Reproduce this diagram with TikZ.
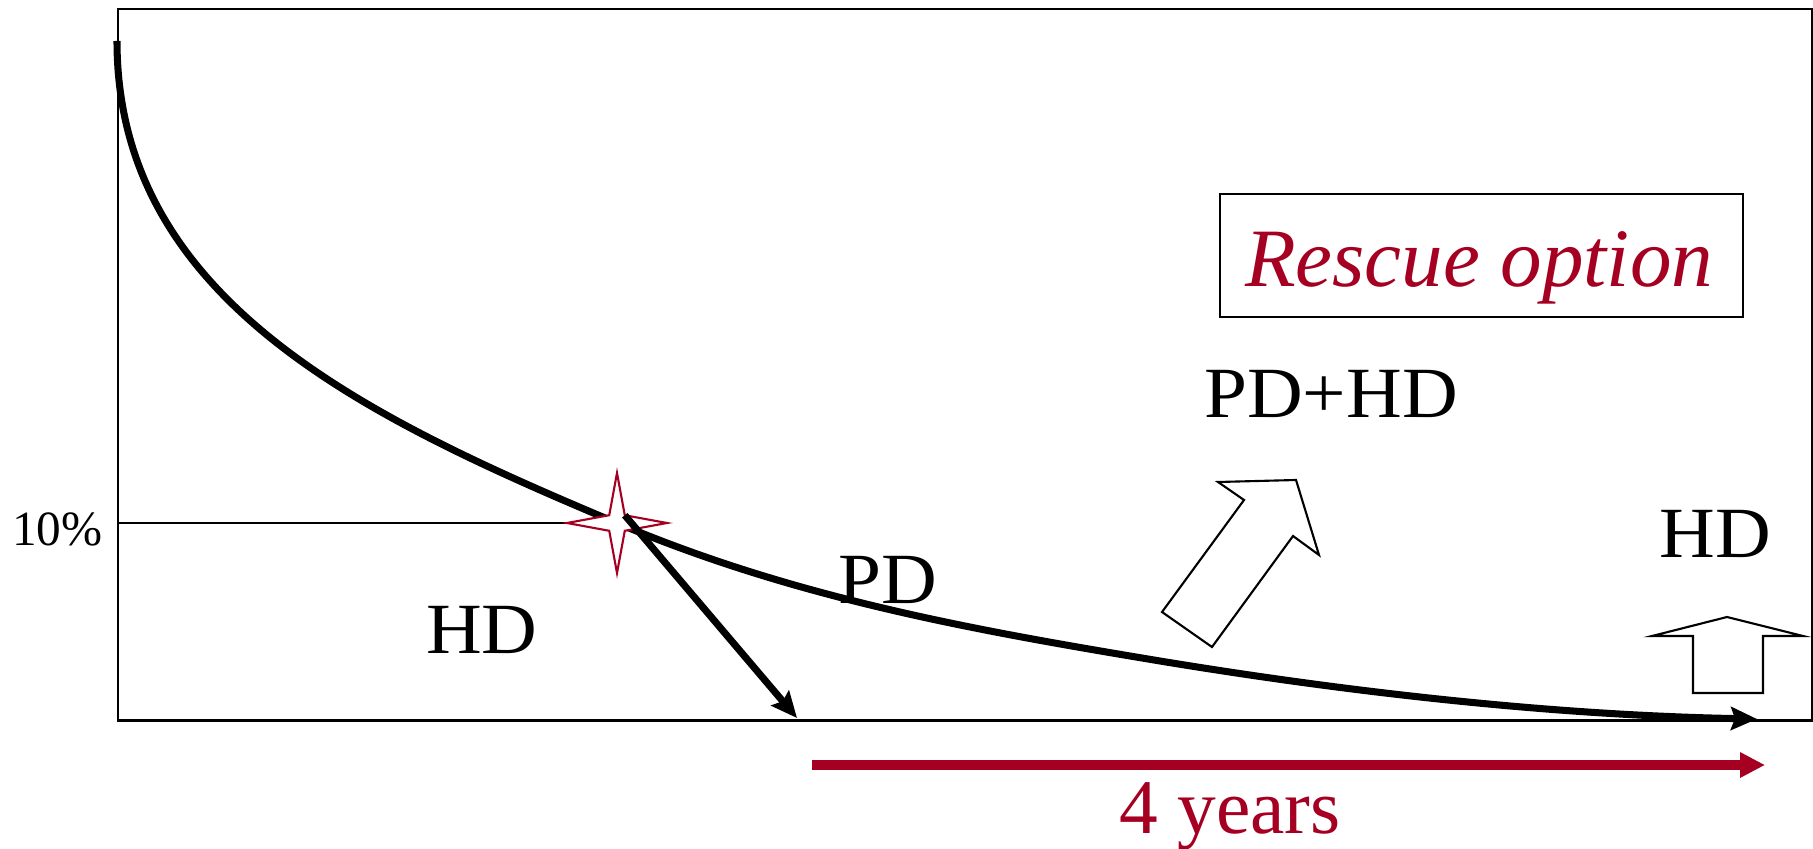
\documentclass[tikz,border=0pt]{standalone}
\usepackage{fontspec}
\setmainfont{Liberation Serif}
\newfontfamily\widefont[FakeStretch=1.07]{Liberation Serif}
\usetikzlibrary{arrows.meta}
\definecolor{darkred}{HTML}{A50021}
\begin{document}
\begin{tikzpicture}[x=0.01cm,y=-0.01cm,
  lbl/.style={anchor=base,inner sep=0pt,font=\widefont\fontsize{20.5}{24}\selectfont},
  blockarrow/.style={draw=black,fill=white,line width=0.6pt,line join=miter},
  mainline/.style={line width=2pt},
  tipstyle/.style={-{Stealth[length=0.26cm,width=0.23cm,inset=0.04cm]}}]
\useasboundingbox (0,0) rectangle (1813,849);
% frame
\node[draw, line width=0.6pt, minimum width=16.93cm, minimum height=7.11cm, inner sep=0pt, anchor=north west] (frame) at (117,8) {};
% key coordinates
\coordinate (start) at (117,41);
\coordinate (star) at (617,523);
\coordinate (mid) at (1136,657);
\coordinate (hdend) at (797,718);
\coordinate (curveend) at (1757,719);
% 10% line
\draw[line width=0.45pt] (frame.west |- star) -- (star);
% main curve
\draw[mainline,tipstyle] (start) .. controls (117,301) and (367,418) .. (star)
  .. controls (790,596) and (963,628) .. (mid)
  .. controls (1343,692) and (1550,715) .. (curveend);
% star
\draw[darkred, fill=white, line width=0.6pt, line join=miter]
 (star) +(90:50) -- +(45:11) -- +(0:50) -- +(-45:11) -- +(-90:50) -- +(-135:11) -- +(180:50) -- +(135:11) -- cycle;
% diagonal arrow to HD
\draw[mainline,tipstyle] (star) +(-45:11) coordinate (starbr) (starbr) -- (hdend);
% block arrow PD+HD
\draw[blockarrow] (1162,612) -- (1212,647) -- (1293,536) -- (1319,555) -- (1296,480) -- (1218,482) -- (1244,500) -- cycle;
% block arrow up HD
\draw[blockarrow] (1693,693) -- (1693,636) -- (1652,636) -- (1727,617) -- (1803,636) -- (1763,636) -- (1763,693) -- cycle;
% 4 years arrow
\coordinate (yrstart) at (812,765);
\coordinate (yrend) at (1765,765);
\draw[darkred, line width=2.6pt, -{Triangle[length=0.25cm,width=0.24cm]}] (yrstart) -- (yrend);
% labels
\node[lbl] (hdleft) at (482,653) {HD};
\node[lbl] (pd) at (888,603) {PD};
\node[lbl] (pdhd) at (1331,417) {PD+HD};
\node[lbl] (hdright) at (1715,557) {HD};
\node[anchor=base east, inner sep=0pt, font=\fontsize{14}{16}\selectfont] (ten) at (103,545) {10\%};
\node[anchor=base, inner sep=0pt, text=darkred, font=\fontsize{22}{26}\selectfont] (years) at (1230,833) {4 years};
\node[draw, line width=0.6pt, minimum width=5.23cm, minimum height=1.23cm, inner sep=0pt] (rescuebox) at (1481.5,255.5) {};
\node[anchor=base, inner sep=0pt, text=darkred, font=\fontsize{23.6}{28}\selectfont\itshape] (rescue) at (1479,287) {Rescue option};
\end{tikzpicture}
\end{document}
